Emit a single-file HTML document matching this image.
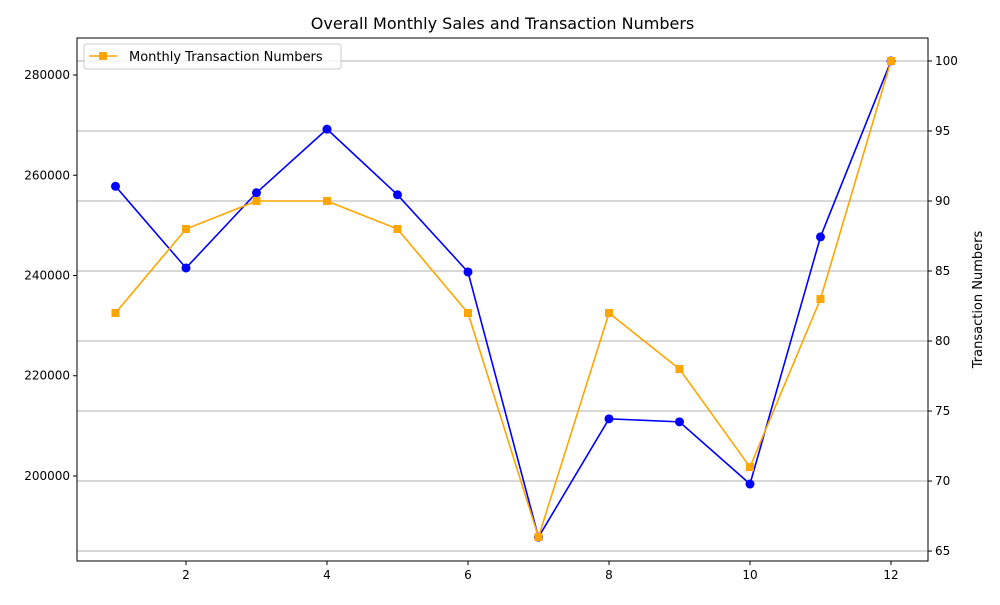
<!DOCTYPE html>
<html><head><meta charset="utf-8"><style>
body{margin:0;background:#fff;font-family:"Liberation Sans","DejaVu Sans",sans-serif}
svg text{font-family:"DejaVu Sans","Liberation Sans",sans-serif}
</style></head><body>
<svg id="chart" width="1000" height="600" xmlns="http://www.w3.org/2000/svg"></svg>
<script>
const months=[1,2,3,4,5,6,7,8,9,10,11,12];
const sales=[257800,241500,256500,269200,256100,240700,187800,211400,210800,198400,247700,282800];
const transactions=[82,88,90,90,88,82,66,82,78,71,83,100];
const xTicks=[2,4,6,8,10,12];
const leftTicks=[200000,220000,240000,260000,280000];
const rightTicks=[65,70,75,80,85,90,95,100];

const L=77,R=928,T=38,B=561;
const xmin=0.454,xmax=12.525,lmin=183042,lmax=287382,rmin=64.29,rmax=101.64;
const xs=v=>L+(v-xmin)/(xmax-xmin)*(R-L);
const yl=v=>B-(v-lmin)/(lmax-lmin)*(B-T);
const yr=v=>B-(v-rmin)/(rmax-rmin)*(B-T);
const svg=document.getElementById('chart');
const NS='http://www.w3.org/2000/svg';
function mk(tag,attrs,parent){const e=document.createElementNS(NS,tag);for(const k in attrs)e.setAttribute(k,attrs[k]);(parent||svg).appendChild(e);return e;}
function txt(s,attrs){const e=mk('text',attrs);e.textContent=s;return e;}

// grid (right axis)
rightTicks.forEach(v=>{
 const g=mk('line',{x1:L,x2:R,y1:yr(v),y2:yr(v),stroke:'#b0b0b0','stroke-width':1});
 
 
});
// frame
const fr=mk('rect',{x:L,y:T,width:R-L,height:B-T,fill:'none',stroke:'#000','stroke-width':1});



xTicks.forEach(v=>{
 mk('line',{x1:xs(v),x2:xs(v),y1:B,y2:B+4,stroke:'#000'});
 const t=txt(v,{x:xs(v),y:B+18,'font-size':12,'text-anchor':'middle'});
 
 
});
leftTicks.forEach(v=>{
 mk('line',{x1:L-4,x2:L,y1:yl(v),y2:yl(v),stroke:'#000'});
 const t=txt(v,{x:L-7,y:yl(v)+4,'font-size':12,'text-anchor':'end'});
 
 
});
rightTicks.forEach(v=>{
 mk('line',{x1:R,x2:R+4,y1:yr(v),y2:yr(v),stroke:'#000'});
 const t=txt(v,{x:R+7,y:yr(v)+4,'font-size':12});
 
 
});
const yt=txt('Transaction Numbers',{x:982,y:(T+B)/2,'font-size':13,'text-anchor':'middle',transform:`rotate(-90 982 ${(T+B)/2})`});


const tt=txt('Overall Monthly Sales and Transaction Numbers',{x:(L+R)/2,y:29,'font-size':16,'text-anchor':'middle'});



// sales line
const sl=mk('polyline',{points:months.map((m,i)=>xs(m)+','+yl(sales[i])).join(' '),fill:'none',stroke:'#0000ff','stroke-width':1.6});


months.forEach((m,i)=>{
 const c=mk('circle',{cx:xs(m),cy:yl(sales[i]),r:4.5,fill:'#0000ff'});
 
 
});
// transactions line
const tl=mk('polyline',{points:months.map((m,i)=>xs(m)+','+yr(transactions[i])).join(' '),fill:'none',stroke:'#ffa500','stroke-width':1.6});


months.forEach((m,i)=>{
 const s=mk('rect',{x:xs(m)-4,y:yr(transactions[i])-4,width:8,height:8,fill:'#ffa500'});
 
 
});
// legend
const lg=mk('g',{});


mk('rect',{x:84,y:44,width:257,height:25,rx:3,fill:'#fff','fill-opacity':0.8,stroke:'#ccc'},lg);
mk('line',{x1:89,x2:117,y1:56,y2:56,stroke:'#ffa500','stroke-width':1.6},lg);
mk('rect',{x:99,y:52,width:8,height:8,fill:'#ffa500'},lg);
const lt=mk('text',{x:129,y:61,'font-size':13},lg);lt.textContent='Monthly Transaction Numbers';
</script>
</body></html>
